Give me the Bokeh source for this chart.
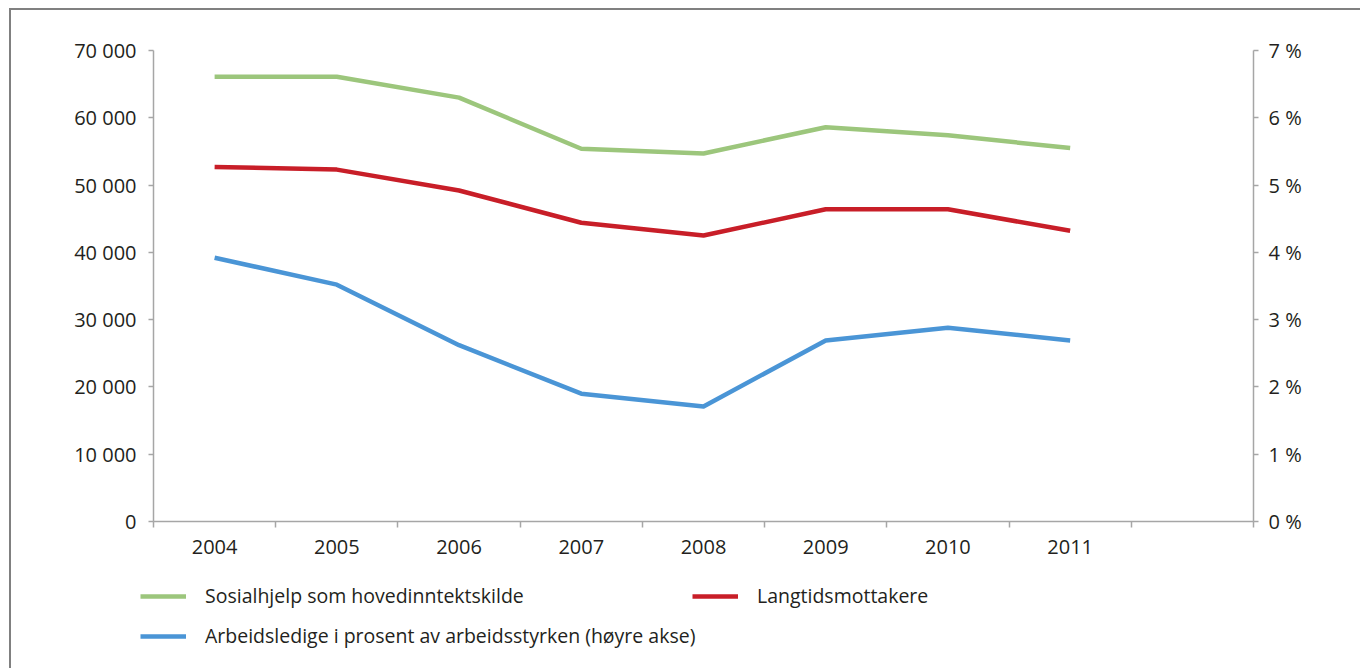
from bokeh.plotting import figure
from bokeh.models import (Range1d, LinearAxis, FixedTicker, Legend, LegendItem)
from bokeh.layouts import column
from bokeh.embed import file_html
from bokeh.resources import INLINE

years = ["2004", "2005", "2006", "2007", "2008", "2009", "2010", "2011"]
sosialhjelp = [66100, 66100, 63000, 55400, 54700, 58600, 57400, 55500]
langtid = [52700, 52300, 49200, 44400, 42500, 46400, 46400, 43200]
ledige_pct = [3.92, 3.52, 2.62, 1.90, 1.71, 2.69, 2.88, 2.69]

left_ticks = [0, 10000, 20000, 30000, 40000, 50000, 60000, 70000]
left_labels = ["0", "10 000", "20 000", "30 000", "40 000", "50 000", "60 000", "70 000"]
right_ticks = [0, 1, 2, 3, 4, 5, 6, 7]
right_labels = ["0 %", "1 %", "2 %", "3 %", "4 %", "5 %", "6 %", "7 %"]

series_names = ["Sosialhjelp som hovedinntektskilde", "Langtidsmottakere",
                "Arbeidsledige i prosent av arbeidsstyrken (høyre akse)"]
series_colors = ["#9cc67c", "#c81e28", "#4a95d6"]

FONT = "Open Sans"
TXT = "#231f20"
AX = "#a6a6a6"

n_slots = len(years) + 1
xs = [i + 0.5 for i in range(len(years))]

p = figure(width=1349, height=560, output_backend="svg", toolbar_location=None,
           x_range=Range1d(0, n_slots), y_range=Range1d(0, 70000),
           min_border_left=142, min_border_right=107, min_border_top=40, min_border_bottom=49,
           x_axis_type=None, y_axis_type=None)
p.outline_line_color = None
p.xgrid.visible = False
p.extra_y_ranges = {"pct": Range1d(0, 7)}

ya = LinearAxis(ticker=FixedTicker(ticks=left_ticks),
                major_label_overrides={t: l for t, l in zip(left_ticks, left_labels)})
p.add_layout(ya, "left")
yr = LinearAxis(y_range_name="pct", ticker=FixedTicker(ticks=right_ticks),
                major_label_overrides={t: l for t, l in zip(right_ticks, right_labels)})
p.add_layout(yr, "right")
xa = LinearAxis(ticker=FixedTicker(ticks=xs, minor_ticks=list(range(n_slots + 1))),
                major_label_overrides={x: y for x, y in zip(xs, years)})
p.add_layout(xa, "below")

for ax in (ya, yr, xa):
    ax.axis_line_color = AX
    ax.axis_line_width = 1.5
    ax.major_tick_line_color = AX
    ax.major_tick_line_width = 1.5
    ax.major_tick_out = 5
    ax.major_tick_in = 0
    ax.minor_tick_line_color = None
    ax.major_label_text_font = FONT
    ax.major_label_text_color = TXT
    ax.major_label_text_font_size = "20px"
ya.major_label_standoff = 12
yr.major_label_standoff = 10
xa.major_tick_line_color = None
xa.minor_tick_line_color = AX
xa.minor_tick_line_width = 1.5
xa.minor_tick_out = 6
xa.minor_tick_in = 0
xa.major_label_standoff = 12

p.ygrid.ticker = FixedTicker(ticks=left_ticks)
p.ygrid.grid_line_color = "#b0b0b0"
p.ygrid.grid_line_width = 1.5

p.line(xs, sosialhjelp, line_color=series_colors[0], line_width=4.5, line_join="round")
p.line(xs, langtid, line_color=series_colors[1], line_width=4.5, line_join="round")
p.line(xs, ledige_pct, y_range_name="pct", line_color=series_colors[2], line_width=4.5,
       line_join="round")

# legend strip below the chart (proxy renderers lie outside its visible range)
lp = figure(width=1349, height=98, output_backend="svg", toolbar_location=None,
            x_range=Range1d(0, 1), y_range=Range1d(-2, -1),
            min_border_left=0, min_border_right=0, min_border_top=0, min_border_bottom=0,
            x_axis_type=None, y_axis_type=None)
lp.outline_line_color = None
lp.grid.visible = False
lg_green = lp.line(xs, sosialhjelp, line_color=series_colors[0], line_width=4.5)
lg_red = lp.line(xs, langtid, line_color=series_colors[1], line_width=4.5)
lg_blue = lp.line(xs, ledige_pct, line_color=series_colors[2], line_width=4.5)

common = dict(orientation="vertical", border_line_color=None, background_fill_alpha=0,
              padding=0, margin=0, spacing=13, glyph_width=46, glyph_height=20,
              label_height=20, label_standoff=19, label_text_font=FONT,
              label_text_font_size="19.5px", label_text_color=TXT)
lp.add_layout(Legend(items=[LegendItem(label=series_names[0], renderers=[lg_green]),
                            LegendItem(label=series_names[2], renderers=[lg_blue])],
                     location=(129, 19), **common), "center")
lp.add_layout(Legend(items=[LegendItem(label=series_names[1], renderers=[lg_red])],
                     location=(681, 59), **common), "center")

layout = column(p, column(lp), spacing=0)
layout.styles = {"margin-left": "9px", "margin-top": "8px",
                 "border-left": "2px solid #808080", "border-top": "2px solid #808080"}

open("out.html", "w").write(file_html(layout, INLINE))
